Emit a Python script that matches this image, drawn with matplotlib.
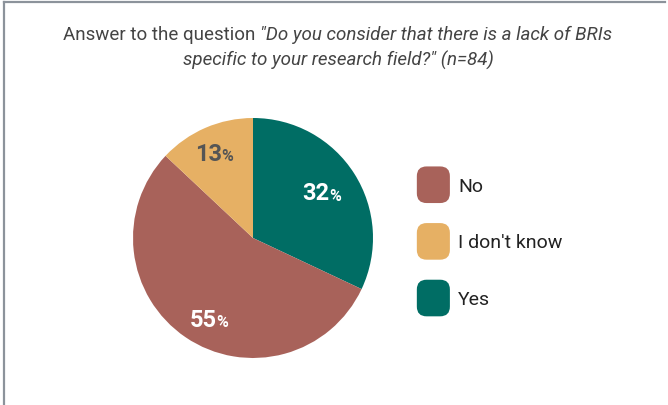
import numpy as np
import matplotlib.pyplot as plt
from matplotlib.patches import FancyBboxPatch, Patch
from matplotlib.legend_handler import HandlerPatch
from matplotlib.lines import Line2D

plt.rcParams['font.family'] = ['Roboto', 'DejaVu Sans']

# survey answers, drawn clockwise from 12 o'clock
labels = ['Yes', 'No', "I don't know"]
shares = [32, 55, 13]
colors = ['#006d64', '#a8625a', '#e6b064']
label_colors = ['white', 'white', '#555555']

# legend order
legend_order = ['No', "I don't know", 'Yes']

# title pieces: (text, style) per line
title_lines = [
    [('Answer to the question ', 'normal'),
     ('"Do you consider that there is a lack of BRIs', 'italic')],
    [('specific to your research field?" (n=84)', 'italic')],
]


class RoundedSquare(HandlerPatch):
    def create_artists(self, legend, orig_handle, xdescent, ydescent,
                       width, height, fontsize, trans):
        p = FancyBboxPatch((-xdescent + 4, -ydescent + 4), width - 8, height - 8,
                           boxstyle='round,pad=4,rounding_size=7',
                           facecolor=orig_handle.get_facecolor(),
                           edgecolor='none', transform=trans)
        return [p]


fig = plt.figure(figsize=(6.68, 4.06), dpi=100)

# pie axes
ax = fig.add_axes([0.1991, 0.1158, 0.3593, 0.5911])
wedges, _ = ax.pie(shares, colors=colors, startangle=90, counterclock=False,
                   radius=1.0, wedgeprops=dict(linewidth=0))
ax.set_xlim(-1, 1)
ax.set_ylim(-1, 1)
ax.set_aspect('equal')
ax.axis('off')

# percentage labels: bold number with a smaller % sign
label_r = [0.70, 0.76, 0.77]
label_turn = [0, 7, 0]   # degrees, nudges the label along the wedge
for w, val, tc, r, dt in zip(wedges, shares, label_colors, label_r, label_turn):
    mid = np.deg2rad((w.theta1 + w.theta2) / 2 + dt)
    x, y = r * np.cos(mid), r * np.sin(mid)
    ax.annotate(f'{val}', (x, y), xytext=(4, 0), textcoords='offset points',
                ha='right', va='center', fontsize=17, fontweight='bold', color=tc)
    ax.annotate('%', (x, y), xytext=(3.5, -1.5), textcoords='offset points',
                ha='left', va='center', fontsize=11.5, fontweight='bold', color=tc)

# legend with rounded swatches
handles = [Patch(facecolor=colors[labels.index(l)]) for l in legend_order]
fig.legend(handles, legend_order, loc='center left',
           bbox_to_anchor=(0.624, 0.403), frameon=False,
           handlelength=1.70, handleheight=2.52,
           handletextpad=0.42, labelspacing=1.03, borderpad=0, borderaxespad=0,
           handler_map={Patch: RoundedSquare()},
           prop={'size': 14}, labelcolor='#222222')

# title: each line centred, mixing upright and italic runs
fig.canvas.draw()
renderer = fig.canvas.get_renderer()
for line, yy in zip(title_lines, [0.914, 0.852]):
    runs = [fig.text(0, yy, s, va='center', fontsize=13.5, color='#444444', style=st)
            for s, st in line]
    widths = [t.get_window_extent(renderer).width for t in runs]
    x0 = (0.506 * fig.bbox.width - sum(widths) / 2)
    for t, wd in zip(runs, widths):
        t.set_x(x0 / fig.bbox.width)
        x0 += wd

# frame lines at top and left
fig.add_artist(Line2D([0.006, 0.996], [0.992, 0.992], color='#8c939b', lw=1.6,
                      transform=fig.transFigure))
fig.add_artist(Line2D([0.006, 0.006], [0.0, 0.992], color='#8c939b', lw=1.6,
                      transform=fig.transFigure))

fig.savefig('out.png', dpi=100)
